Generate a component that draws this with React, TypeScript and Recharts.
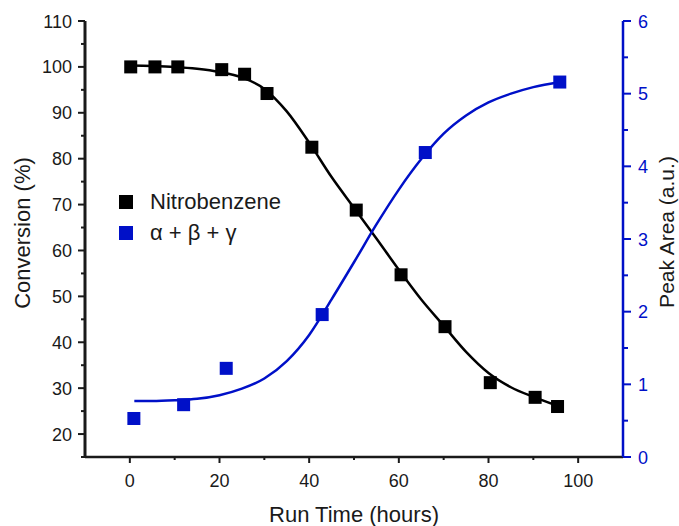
import React from 'react';
import { ComposedChart, Line, Scatter, XAxis, YAxis, Legend, Label } from 'recharts';

const FONT = '"Liberation Sans", Arial, sans-serif';
const BLUE = '#0010c8';
const INK = '#1a1a1a';

// measured points
const runTimeNitro = [0.2, 5.6, 10.7, 20.5, 25.6, 30.6, 40.6, 50.5, 60.5, 70.3, 80.4, 90.4, 95.4];
const conversionNitro = [100, 100, 100, 99.4, 98.4, 94.2, 82.5, 68.8, 54.7, 43.4, 31.2, 28.0, 26.0];
const runTimeProducts = [0.9, 12.0, 21.5, 42.9, 65.9, 95.9];
const peakAreaProducts = [0.53, 0.72, 1.22, 1.96, 4.19, 5.16];

// fitted curves
const fitTimeNitro = [0, 5, 10, 15, 20, 25, 30, 35, 40, 45, 50, 55, 60, 65, 70, 75, 80, 85, 90, 95];
const fitConvNitro = [100.3, 100.2, 100.0, 99.6, 98.9, 97.7, 95.2, 90.3, 83.5, 76.0, 69.3, 62.6, 55.8, 49.3, 43.6, 37.9, 33.3, 30.2, 28.1, 26.3];
const fitTimeProducts = [1, 5, 10, 15, 20, 25, 30, 35, 40, 45, 50, 55, 60, 65, 70, 75, 80, 85, 90, 96];
const fitAreaProducts = [0.77, 0.77, 0.78, 0.8, 0.85, 0.94, 1.08, 1.32, 1.68, 2.17, 2.68, 3.2, 3.68, 4.1, 4.45, 4.7, 4.88, 5.0, 5.09, 5.16];

// axis ticks (majors get labels, the rest are minor)
const timeTicks = [0, 10, 20, 30, 40, 50, 60, 70, 80, 90, 100];
const conversionTicks = [15, 20, 25, 30, 35, 40, 45, 50, 55, 60, 65, 70, 75, 80, 85, 90, 95, 100, 105, 110];
const areaTicks = [0, 0.5, 1, 1.5, 2, 2.5, 3, 3.5, 4, 4.5, 5, 5.5, 6];

const seriesNames = ['Nitrobenzene', 'α + β + γ'];

const nitroPoints = runTimeNitro.map((x, i) => ({ x, y: conversionNitro[i] }));
const productPoints = runTimeProducts.map((x, i) => ({ x, y: peakAreaProducts[i] }));
const nitroFit = fitTimeNitro.map((x, i) => ({ x, y: fitConvNitro[i] }));
const productFit = fitTimeProducts.map((x, i) => ({ x, y: fitAreaProducts[i] }));

const BottomTick = ({ x, y, payload }: any) => {
  const major = payload.value % 20 === 0;
  return (
    <g>
      <line x1={x} y1={y} x2={x} y2={y + (major ? 6 : 3)} stroke={INK} strokeWidth={2} />
      {major && (
        <text x={x} y={y + 30} textAnchor="middle" fontSize={18} fontFamily={FONT} fill={INK}>
          {payload.value}
        </text>
      )}
    </g>
  );
};

const TopTick = ({ x, y, payload }: any) => {
  const major = payload.value % 20 === 0;
  return <line x1={x} y1={y} x2={x} y2={y + (major ? 7 : 4)} stroke={BLUE} strokeWidth={2} />;
};

const LeftTick = ({ x, y, payload }: any) => {
  const major = payload.value % 10 === 0;
  return (
    <g>
      <line x1={x} y1={y} x2={x - (major ? 7 : 4)} y2={y} stroke={INK} strokeWidth={2} />
      {major && (
        <text x={x - 13} y={y + 6.5} textAnchor="end" fontSize={18} fontFamily={FONT} fill={INK}>
          {payload.value}
        </text>
      )}
    </g>
  );
};

const RightTick = ({ x, y, payload }: any) => {
  const major = Number.isInteger(payload.value);
  return (
    <g>
      <line x1={x} y1={y} x2={x + (major ? 8 : 5)} y2={y} stroke={BLUE} strokeWidth={2} />
      {major && (
        <text x={x + 15} y={y + 6.5} textAnchor="start" fontSize={18} fontFamily={FONT} fill={BLUE}>
          {payload.value}
        </text>
      )}
    </g>
  );
};

const SquareDot = ({ cx, cy, fill }: any) => (
  <rect x={cx - 6.5} y={cy - 6.5} width={13} height={13} fill={fill} />
);

const LegendBox = ({ payload }: any) => (
  <div style={{ fontFamily: FONT, fontSize: 22, color: INK }}>
    {(payload || [])
      .filter((entry: any) => seriesNames.includes(entry.value))
      .map((entry: any) => (
        <div key={entry.value} style={{ display: 'flex', alignItems: 'center', height: 31.5 }}>
          <span style={{ width: 14, height: 14, background: entry.color, marginRight: 17 }} />
          <span>{entry.value}</span>
        </div>
      ))}
  </div>
);

const App = () => (
  <div style={{ position: 'absolute', left: 0, top: 0, width: 679, height: 526, background: '#fff' }}>
    <ComposedChart width={679} height={526} margin={{ top: 21, right: 0, bottom: 0, left: 0 }}>
      <XAxis
        xAxisId="bottom"
        orientation="bottom"
        type="number"
        dataKey="x"
        domain={[-10, 110]}
        ticks={timeTicks}
        interval={0}
        height={69}
        allowDataOverflow
        axisLine={{ stroke: INK, strokeWidth: 2.5 }}
        tickLine={false}
        tickSize={0}
        tickMargin={0}
        tick={(p: any) => <BottomTick {...p} />}
      >
        <Label
          content={({ viewBox }: any) => (
            <text
              x={viewBox.x + viewBox.width / 2}
              y={viewBox.y + 65}
              textAnchor="middle"
              fontSize={22}
              fontFamily={FONT}
              fill={INK}
            >
              Run Time (hours)
            </text>
          )}
        />
      </XAxis>
      <XAxis
        xAxisId="top"
        orientation="top"
        type="number"
        dataKey="x"
        domain={[-10, 110]}
        ticks={timeTicks}
        interval={0}
        height={0}
        allowDataOverflow
        axisLine={{ stroke: BLUE, strokeWidth: 2 }}
        tickLine={false}
        tickSize={0}
        tickMargin={0}
        tick={(p: any) => <TopTick {...p} />}
      />
      <YAxis
        yAxisId="left"
        orientation="left"
        type="number"
        dataKey="y"
        domain={[15, 110]}
        ticks={conversionTicks}
        interval={0}
        width={85}
        allowDataOverflow
        axisLine={{ stroke: INK, strokeWidth: 3 }}
        tickLine={false}
        tickSize={0}
        tickMargin={0}
        tick={(p: any) => <LeftTick {...p} />}
      >
        <Label
          content={({ viewBox }: any) => (
            <text
              transform={`translate(${viewBox.x + 22},${viewBox.y + viewBox.height / 2 - 6}) rotate(-90)`}
              textAnchor="middle"
              dominantBaseline="central"
              fontSize={22}
              fontFamily={FONT}
              fill={INK}
            >
              Conversion (%)
            </text>
          )}
        />
      </YAxis>
      <YAxis
        yAxisId="right"
        orientation="right"
        type="number"
        dataKey="y"
        domain={[0, 6]}
        ticks={areaTicks}
        interval={0}
        width={56}
        allowDataOverflow
        axisLine={{ stroke: BLUE, strokeWidth: 2.5 }}
        tickLine={false}
        tickSize={0}
        tickMargin={0}
        tick={(p: any) => <RightTick {...p} />}
      >
        <Label
          content={({ viewBox }: any) => (
            <text
              transform={`translate(${viewBox.x + 43},${viewBox.y + viewBox.height / 2 - 7}) rotate(-90)`}
              textAnchor="middle"
              dominantBaseline="central"
              fontSize={21}
              fontFamily={FONT}
              fill={INK}
            >
              Peak Area (a.u.)
            </text>
          )}
        />
      </YAxis>

      <Line
        name="Nitrobenzene fit"
        data={nitroFit}
        xAxisId="bottom"
        yAxisId="left"
        dataKey="y"
        type="monotone"
        stroke="#000"
        strokeWidth={2.5}
        dot={false}
        legendType="none"
        isAnimationActive={false}
      />
      <Line
        name="α + β + γ fit"
        data={productFit}
        xAxisId="bottom"
        yAxisId="right"
        dataKey="y"
        type="monotone"
        stroke={BLUE}
        strokeWidth={2.5}
        dot={false}
        legendType="none"
        isAnimationActive={false}
      />
      <Scatter
        name="Nitrobenzene"
        data={nitroPoints}
        xAxisId="bottom"
        yAxisId="left"
        fill="#000"
        shape={(p: any) => <SquareDot {...p} />}
        isAnimationActive={false}
      />
      <Scatter
        name="α + β + γ"
        data={productPoints}
        xAxisId="bottom"
        yAxisId="right"
        fill={BLUE}
        shape={(p: any) => <SquareDot {...p} />}
        isAnimationActive={false}
      />
      <Legend
        layout="horizontal"
        align="center"
        verticalAlign="middle"
        width={220}
        wrapperStyle={{ left: 119, top: 186 }}
        content={(p: any) => <LegendBox {...p} />}
      />
    </ComposedChart>
  </div>
);

export default App;
